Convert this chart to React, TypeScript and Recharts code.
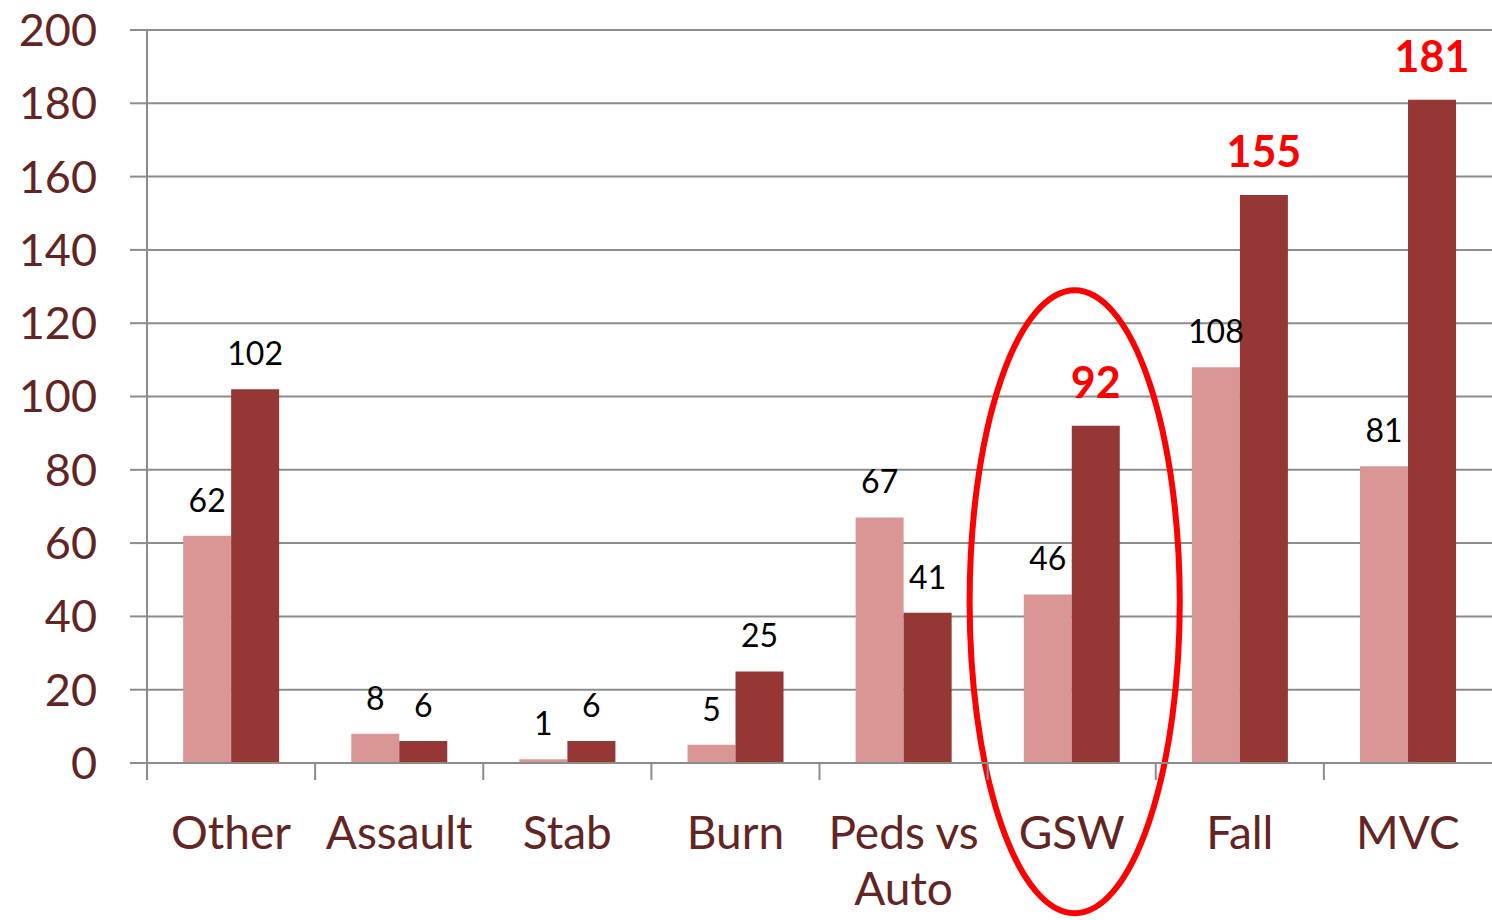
import { BarChart, Bar, XAxis, YAxis, CartesianGrid, LabelList, ReferenceArea } from 'recharts';

const categories = ['Other', 'Assault', 'Stab', 'Burn', 'Peds vs Auto', 'GSW', 'Fall', 'MVC'];
const earlier = [62, 8, 1, 5, 67, 46, 108, 81];
const later = [102, 6, 6, 25, 41, 92, 155, 181];
// dark-bar labels drawn in bold red
const highlighted = ['GSW', 'Fall', 'MVC'];
const circled = 'GSW';
const yTicks = [0, 20, 40, 60, 80, 100, 120, 140, 160, 180, 200];

const W = 1492;
const H = 920;
const Y_AXIS_W = 147;
const X_AXIS_H = 157;
const TOP = 30;
const BAND = (W - Y_AXIS_W) / categories.length;

const FONT = 'Lato, "Open Sans", sans-serif';
const AXIS_TEXT = '#632523';
const GRID = '#8c8c8c';
const LIGHT = '#d99694';
const DARK = '#953735';
const X_FONT = 46;

const data = categories.map((c, i) => ({ cat: c, earlier: earlier[i], later: later[i] }));

// rough greedy word wrap, about half an em per character
function wrap(label: string, maxW: number) {
  const lines: string[] = [];
  let cur = '';
  for (const w of label.split(' ')) {
    const next = cur ? cur + ' ' + w : w;
    if (cur && next.length * X_FONT * 0.5 > maxW) {
      lines.push(cur);
      cur = w;
    } else cur = next;
  }
  if (cur) lines.push(cur);
  return lines;
}

function XTick(props: any) {
  const { x, y, payload } = props;
  const axisY = y - 8;
  const lines = wrap(String(payload.value), BAND);
  return (
    <g>
      <line x1={x - BAND / 2} x2={x - BAND / 2} y1={axisY} y2={axisY + 17} stroke={GRID} strokeWidth={2} />
      <text x={x} y={axisY + 86} textAnchor="middle" fill={AXIS_TEXT} fontSize={X_FONT} fontFamily={FONT}>
        {lines.map((l, i) => (
          <tspan key={i} x={x} dy={i === 0 ? 0 : 56}>
            {l}
          </tspan>
        ))}
      </text>
    </g>
  );
}

function plainLabel(props: any) {
  const { x, y, width, value } = props;
  return (
    <text x={x + width / 2} y={y - 24} textAnchor="middle" fill="#000" fontSize={32} fontFamily={FONT}>
      {value}
    </text>
  );
}

function laterLabel(props: any) {
  const { x, y, width, value, index } = props;
  if (highlighted.includes(categories[index])) {
    return (
      <text x={x + width / 2} y={y - 28} textAnchor="middle" fill="#ff0000" fontSize={43} fontWeight="bold" fontFamily={FONT}>
        {value}
      </text>
    );
  }
  return plainLabel(props);
}

function Ring(props: any) {
  const { x, y, width, height } = props;
  return (
    <ellipse
      cx={x + width / 2 + 3}
      cy={y + height / 2}
      rx={(width / 2) * 1.25}
      ry={height / 2}
      fill="none"
      stroke="#ff0000"
      strokeWidth={6}
    />
  );
}

export default function App() {
  return (
    <div style={{ width: W, height: H, background: '#fff' }}>
      <style>{`body{margin:0}`}</style>
      <BarChart
        width={W}
        height={H}
        data={data}
        margin={{ top: TOP, right: 0, bottom: 0, left: 0 }}
        barCategoryGap="21.5%"
        barGap={0}
      >
        <CartesianGrid vertical={false} stroke={GRID} strokeWidth={2} />
        <XAxis
          dataKey="cat"
          height={X_AXIS_H}
          interval={0}
          tickLine={false}
          axisLine={{ stroke: GRID, strokeWidth: 2 }}
          tick={<XTick />}
        />
        <YAxis
          width={Y_AXIS_W}
          domain={[0, 200]}
          ticks={yTicks}
          interval={0}
          tickSize={17}
          tickMargin={33}
          tickLine={{ stroke: GRID, strokeWidth: 2 }}
          axisLine={{ stroke: GRID, strokeWidth: 2 }}
          tick={{ fill: AXIS_TEXT, fontSize: 45, fontFamily: FONT }}
        />
        <Bar dataKey="earlier" fill={LIGHT} isAnimationActive={false}>
          <LabelList dataKey="earlier" content={plainLabel} />
        </Bar>
        <Bar dataKey="later" fill={DARK} isAnimationActive={false}>
          <LabelList dataKey="later" content={laterLabel} />
        </Bar>
        <ReferenceArea
          x1={circled}
          x2={circled}
          y1={-41}
          y2={129}
          ifOverflow="visible"
          shape={<Ring />}
        />
      </BarChart>
    </div>
  );
}
